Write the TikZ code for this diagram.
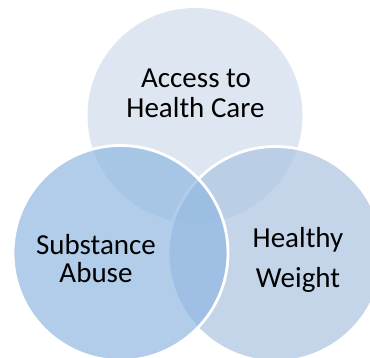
\documentclass[tikz,border=0pt]{standalone}
\usepackage{fontspec}
\setmainfont{Carlito}
\definecolor{ctop}{RGB}{209,221,236}
\definecolor{cright}{RGB}{171,196,225}
\definecolor{cleft}{RGB}{144,184,226}
\begin{document}
\begin{tikzpicture}[x=1pt,y=-1pt,
  venn/.style={circle,minimum size=215pt,inner sep=0pt,fill opacity=0.7,draw=white,draw opacity=1,line width=2.8pt},
  lbl/.style={anchor=base,inner sep=0pt,font=\fontsize{29}{30}\selectfont,text=black}]
\useasboundingbox[fill=white] (0,0) rectangle (370,358);
\node[venn,fill=ctop,draw=none] (top) at (195,115.5) {};
\node[venn,fill=cright] (right) at (275.5,254) {};
\node[venn,fill=cleft] (left) at (120.5,253) {};
\node[lbl] (ttop1) at (196,88) {Access to};
\node[lbl] (ttop2) at (195.5,118) {Health Care};
\node[lbl] (tleft1) at (96,255) {Substance};
\node[lbl] (tleft2) at (96,283) {Abuse};
\node[lbl] (tright1) at (298,248) {Healthy};
\node[lbl] (tright2) at (298,288) {Weight};
\end{tikzpicture}
\end{document}
